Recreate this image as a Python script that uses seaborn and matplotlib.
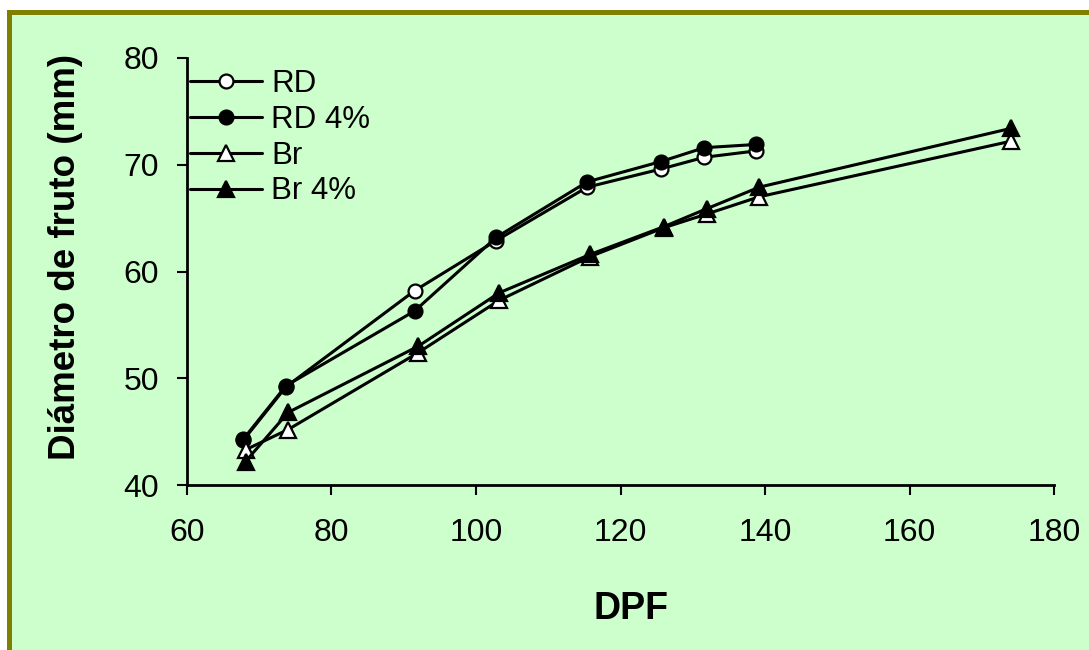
import matplotlib
matplotlib.use("Agg")
import matplotlib.pyplot as plt
from matplotlib.patches import Rectangle
import seaborn as sns

# Days post flowering (DPF) at each sampling
dpf_rd = [67.8, 73.7, 91.5, 102.8, 115.4, 125.6, 131.6, 138.8]
dpf_br = [68.1, 74.0, 92.0, 103.2, 115.8, 126.0, 132.0, 139.2, 174.0]

# Fruit diameter (mm)
diam_rd = [44.2, 49.2, 58.2, 62.9, 67.9, 69.6, 70.7, 71.3]
diam_rd4 = [44.3, 49.3, 56.3, 63.2, 68.4, 70.3, 71.6, 71.9]
diam_br = [43.3, 45.2, 52.4, 57.3, 61.4, 64.1, 65.4, 67.0, 72.2]
diam_br4 = [42.2, 46.8, 53.0, 58.0, 61.6, 64.2, 65.9, 67.9, 73.4]

series_labels = ["RD", "RD 4%", "Br", "Br 4%"]
x_ticks = [60, 80, 100, 120, 140, 160, 180]
y_ticks = [40, 50, 60, 70, 80]

sns.set_theme(style="ticks")
plt.rcParams["font.family"] = ["Liberation Sans", "DejaVu Sans"]
plt.rcParams["text.color"] = "black"
plt.rcParams["axes.labelcolor"] = "black"

bg = "#CCFFCC"
olive = "#808000"

fig = plt.figure(figsize=(10.89, 6.5), dpi=100)
fig.patch.set_facecolor("white")
# Panel background with an olive frame on the left and top
fig.patches.append(Rectangle((0.0064, -0.05), 1.1, 0.9910 + 0.05 - 0.0064,
                             transform=fig.transFigure, facecolor=olive,
                             edgecolor="none", zorder=-10))
fig.patches.append(Rectangle((0.0110, -0.05), 1.1, 0.9769 + 0.05,
                             transform=fig.transFigure, facecolor=bg,
                             edgecolor="none", zorder=-9))

ax = fig.add_axes([0.1717, 0.2538, 0.9679 - 0.1717, 0.9108 - 0.2538])
ax.set_zorder(1)
ax.patch.set_alpha(0)

styles = [
    (dpf_rd, diam_rd, "o", "white", 10),
    (dpf_rd, diam_rd4, "o", "black", 10),
    (dpf_br, diam_br, "^", "white", 12),
    (dpf_br, diam_br4, "^", "black", 12),
]
for (xs, ys, mk, fc, ms), lab in zip(styles, series_labels):
    sns.lineplot(x=xs, y=ys, ax=ax, sort=False, color="black", linewidth=2.2,
                 marker=mk, markersize=ms, markerfacecolor=fc,
                 markeredgecolor="black", markeredgewidth=1.6, label=lab)

ax.set_xlim(60, 180)
ax.set_ylim(40, 80)
ax.set_xticks(x_ticks)
ax.set_yticks(y_ticks)
sns.despine(ax=ax)
for side in ("left", "bottom"):
    ax.spines[side].set_linewidth(2)
    ax.spines[side].set_color("black")
ax.tick_params(axis="both", direction="out", length=7, width=1.5,
               colors="black", labelsize=23)
ax.tick_params(axis="y", pad=13)
ax.tick_params(axis="x", pad=17)

ax.set_xlabel("DPF", fontsize=27, fontweight="bold", labelpad=31)
ax.xaxis.label.set_x(0.512)
ax.set_ylabel("Diámetro de fruto (mm)", fontsize=26.5, fontweight="bold",
              labelpad=29)
ax.yaxis.label.set_y(0.535)

leg = ax.legend(loc="upper left", bbox_to_anchor=(0.0035, 0.975),
                frameon=False, fontsize=22.5, numpoints=1, handlelength=2.3,
                handletextpad=0.3, labelspacing=0.19, borderpad=0,
                borderaxespad=0)
for t in leg.get_texts():
    t.set_color("black")

fig.savefig("out.png", dpi=100, facecolor=fig.get_facecolor())
